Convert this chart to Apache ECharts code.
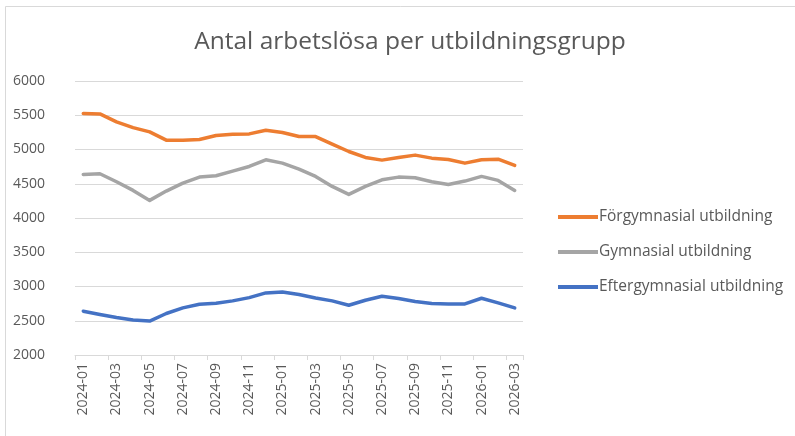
<!DOCTYPE html>
<html>
<head>
<meta charset="utf-8">
<script src="https://cdn.jsdelivr.net/npm/echarts@6/dist/echarts.min.js"></script>
<style>
  html, body { margin: 0; padding: 0; background: #fff; }
  #chart { width: 795px; height: 436px; }
</style>
</head>
<body>
<div id="chart"></div>
<script>
// months 2024-01 .. 2026-03
const months = [
  '2024-01', '2024-02', '2024-03', '2024-04', '2024-05', '2024-06', '2024-07', '2024-08', '2024-09',
  '2024-10', '2024-11', '2024-12', '2025-01', '2025-02', '2025-03', '2025-04', '2025-05', '2025-06',
  '2025-07', '2025-08', '2025-09', '2025-10', '2025-11', '2025-12', '2026-01', '2026-02', '2026-03'
];

const forgymnasial = [
  5524, 5520, 5403, 5320, 5257, 5136, 5136, 5145, 5204, 5223, 5228, 5282, 5248, 5189,
  5189, 5078, 4971, 4884, 4845, 4884, 4918, 4874, 4855, 4801, 4850, 4859, 4767
];

const gymnasial = [
  4636, 4646, 4529, 4403, 4257, 4393, 4510, 4597, 4617, 4684, 4752, 4850, 4801, 4714,
  4607, 4461, 4345, 4461, 4558, 4597, 4587, 4529, 4490, 4539, 4607, 4549, 4403
];

const eftergymnasial = [
  2640, 2592, 2548, 2510, 2495, 2606, 2688, 2742, 2756, 2790, 2838, 2906, 2920, 2882,
  2833, 2790, 2727, 2800, 2857, 2824, 2780, 2751, 2746, 2746, 2828, 2761, 2688
];

const seriesNames = ['Förgymnasial utbildning', 'Gymnasial utbildning', 'Eftergymnasial utbildning'];
const colors = ['#ED7D31', '#A5A5A5', '#4472C4'];

const chart = echarts.init(document.getElementById('chart'));
const txt = '#595959';

const mkLine = (name, data, color) => ({
  name: name,
  type: 'line',
  data: data,
  symbol: 'none',
  smooth: false,
  lineStyle: { color: color, width: 3.5, cap: 'round', join: 'round' },
  itemStyle: { color: color }
});

chart.setOption({
  animation: false,
  backgroundColor: '#fff',
  color: colors,
  title: {
    text: 'Antal arbetslösa per utbildningsgrupp',
    left: 405,
    top: 25,
    textAlign: 'center',
    textStyle: { fontFamily: 'Open Sans', fontWeight: 'normal', fontSize: 24.5, color: txt }
  },
  legend: {
    orient: 'vertical',
    left: 553,
    top: 204,
    itemWidth: 40,
    itemHeight: 4,
    itemGap: 19,
    icon: 'rect',
    textStyle: { fontFamily: 'Open Sans', fontSize: 15.5, color: txt, padding: [0, 0, 0, -4] },
    data: seriesNames
  },
  graphic: [{
    type: 'rect',
    shape: { x: 5.5, y: 6.5, width: 800, height: 440 },
    style: { fill: 'none', stroke: '#d9d9d9', lineWidth: 1 },
    silent: true
  }],
  grid: { left: 75, right: 272, top: 81, bottom: 81 },
  xAxis: {
    type: 'category',
    data: months,
    boundaryGap: true,
    axisLine: { lineStyle: { color: '#d9d9d9', width: 1 } },
    axisTick: { show: true, interval: 1, length: 5, lineStyle: { color: '#d9d9d9' } },
    axisLabel: {
      interval: 1,
      rotate: 90,
      color: txt,
      fontFamily: 'Open Sans',
      fontSize: 14,
      margin: 8
    },
    splitLine: { show: false }
  },
  yAxis: {
    type: 'value',
    min: 2000,
    max: 6000,
    interval: 500,
    axisLine: { show: false },
    axisTick: { show: false },
    axisLabel: {
      color: txt,
      fontFamily: 'Open Sans',
      fontSize: 14,
      margin: 62,
      align: 'left',
      formatter: (v) => String(v)
    },
    splitLine: { lineStyle: { color: '#d9d9d9', width: 1 } }
  },
  series: [
    mkLine(seriesNames[0], forgymnasial, colors[0]),
    mkLine(seriesNames[1], gymnasial, colors[1]),
    mkLine(seriesNames[2], eftergymnasial, colors[2])
  ]
});
</script>
</body>
</html>
